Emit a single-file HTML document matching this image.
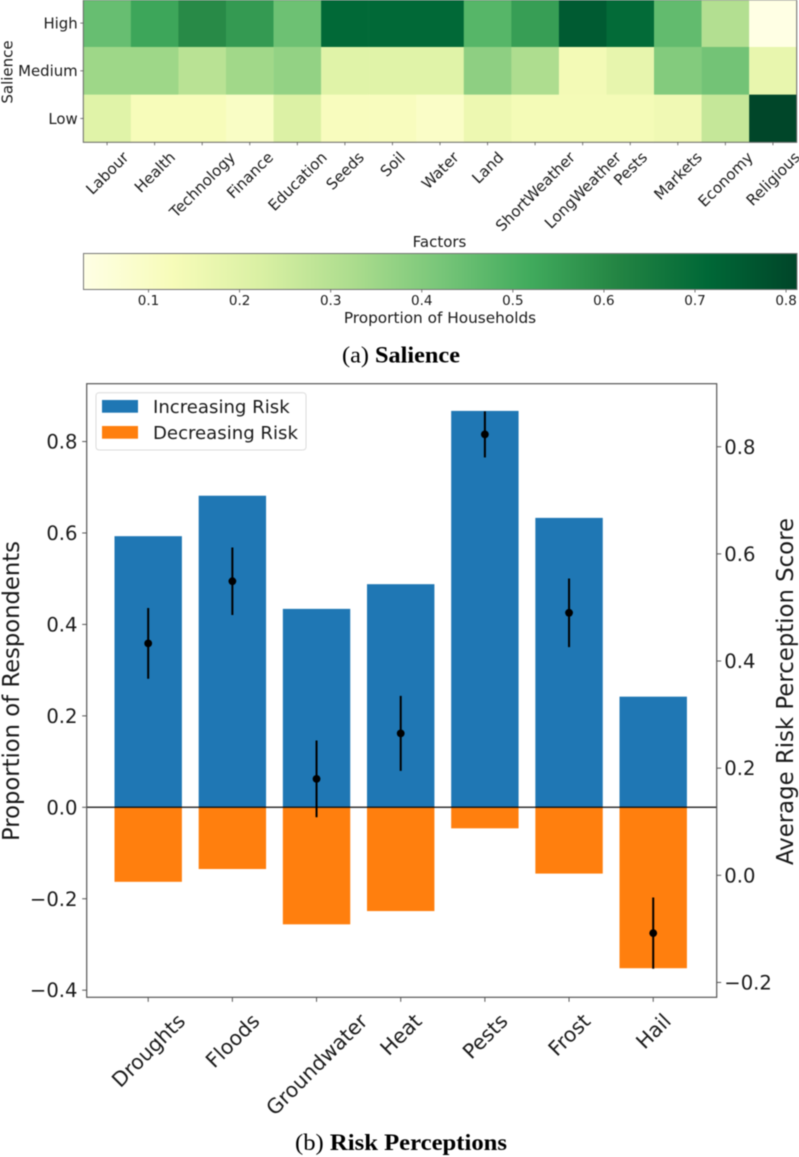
<!DOCTYPE html>
<html lang="en">
<head>
<meta charset="utf-8">
<title>Salience and Risk Perceptions</title>
<style>
  html, body { margin: 0; padding: 0; background: #fff; width: 799px; height: 1157px; overflow: hidden; }
  svg { display: block; filter: blur(0.45px); }
  text { font-family: "DejaVu Sans", "Liberation Sans", sans-serif; fill: #1a1a1a; }
  .caption { font-family: "Liberation Serif", "DejaVu Serif", serif; font-size: 23px; fill: #000; }
</style>
</head>
<body>
<svg id="figure" xmlns="http://www.w3.org/2000/svg" width="799" height="1157" viewBox="0 0 799 1157">
  <defs>
    <linearGradient id="ylgn" x1="0" x2="1" y1="0" y2="0"></linearGradient>
  </defs>

  <g id="heatmap"></g>
  <text transform="translate(12.5,72) rotate(-90)" text-anchor="middle" font-size="15">Salience</text>
  <text x="439.5" y="247" text-anchor="middle" font-size="15">Factors</text>

  <g id="colorbar"></g>
  <text x="440" y="323" text-anchor="middle" font-size="15.3">Proportion of Households</text>

  <text class="caption" x="401" y="362.5" text-anchor="middle" textLength="118" lengthAdjust="spacingAndGlyphs">(a) <tspan font-weight="bold">Salience</tspan></text>

  <g id="riskChart"></g>
  <text transform="translate(19,691) rotate(-90)" text-anchor="middle" font-size="22.7">Proportion of Respondents</text>
  <text transform="translate(793,691.5) rotate(-90)" text-anchor="middle" font-size="22.8">Average Risk Perception Score</text>

  <g>
    <rect x="96" y="392.7" width="210" height="57.3" rx="3" fill="#fff" fill-opacity="0.85" stroke="#dcdcdc" stroke-width="1"/>
    <rect x="102" y="400" width="36" height="12.7" fill="#1f77b4"/>
    <text x="153" y="413" font-size="18.1">Increasing Risk</text>
    <rect x="102" y="426" width="36" height="12.7" fill="#ff7f0e"/>
    <text x="153" y="439" font-size="18.1">Decreasing Risk</text>
  </g>

  <text class="caption" x="401" y="1150" text-anchor="middle" textLength="212" lengthAdjust="spacingAndGlyphs">(b) <tspan font-weight="bold">Risk Perceptions</tspan></text>
</svg>

<script>
// ---- Heatmap data ----
const factors = ["Labour","Health","Technology","Finance","Education","Seeds","Soil","Water","Land","ShortWeather","LongWeather","Pests","Markets","Economy","Religious"];
const salienceLevels = ["High","Medium","Low"];
const salienceHigh   = [0.45,0.53,0.60,0.56,0.44,0.71,0.71,0.71,0.48,0.55,0.75,0.705,0.46,0.31,0.03];
const salienceMedium = [0.35,0.35,0.295,0.345,0.37,0.20,0.20,0.20,0.38,0.32,0.14,0.18,0.40,0.43,0.175];
const salienceLow    = [0.20,0.125,0.125,0.10,0.215,0.115,0.115,0.095,0.16,0.135,0.135,0.135,0.15,0.27,0.81];
const colorbarTicks = [0.1,0.2,0.3,0.4,0.5,0.6,0.7,0.8];
const colorMin = 0.0286;
const colorMax = 0.812;

// ---- Risk chart data ----
const riskCategories = ["Droughts","Floods","Groundwater","Heat","Pests","Frost","Hail"];
const increasingRisk = [0.593,0.6815,0.434,0.488,0.867,0.633,0.242];
const decreasingRisk = [-0.163,-0.135,-0.256,-0.227,-0.046,-0.145,-0.352];
const meanScore  = [0.433,0.549,0.180,0.265,0.823,0.490,-0.108];
const scoreError = [0.066,0.063,0.0716,0.070,0.043,0.064,0.0665];
const leftTicks  = [-0.4,-0.2,0,0.2,0.4,0.6,0.8];
const rightTicks = [-0.2,0,0.2,0.4,0.6,0.8];

// ---- Helpers ----
const NS = "http://www.w3.org/2000/svg";
function make(parent, tag, attrs, txt) {
  const node = document.createElementNS(NS, tag);
  for (const k in attrs) node.setAttribute(k, attrs[k]);
  if (txt !== undefined) node.textContent = txt;
  parent.appendChild(node);
  return node;
}
const ylgnStops = [[255,255,229],[247,252,185],[217,240,163],[173,221,142],[120,198,121],[65,171,93],[35,132,67],[0,104,55],[0,69,41]];
function ylgn(t) {
  t = Math.max(0, Math.min(1, t)) * (ylgnStops.length - 1);
  const i = Math.min(Math.floor(t), ylgnStops.length - 2), f = t - i;
  const c = ylgnStops[i].map((v, j) => Math.round(v + (ylgnStops[i + 1][j] - v) * f));
  return "rgb(" + c.join(",") + ")";
}
function colorOf(v) { return ylgn((v - colorMin) / (colorMax - colorMin)); }
function fmt(v) { return (v < 0 ? "\u2212" : "") + Math.abs(v).toFixed(1); }

// Rotated (45 deg) label, horizontally centred on cx, its bounding box top at `top`.
function rotatedLabel(parent, label, cx, top, size) {
  const el = make(parent, "text", {"text-anchor": "middle", "font-size": size}, label);
  const w = el.getComputedTextLength();
  const cy = top + (w + size) * Math.SQRT1_2 / 2;
  el.setAttribute("transform", "translate(" + cx + "," + cy + ") rotate(-45)");
  el.setAttribute("dy", "0.36em");
  return el;
}

const SPINE = "#555";

// ---- Heatmap ----
const hm = {left: 83.3, right: 796.7, top: -0.7, bottom: 142.3};
const hmX = i => hm.left + i * (hm.right - hm.left) / factors.length;
const hmY = j => hm.top + j * (hm.bottom - hm.top) / salienceLevels.length;
const heatmap = document.getElementById("heatmap");
const salienceRows = [salienceHigh, salienceMedium, salienceLow];

salienceRows.forEach((row, j) => {
  row.forEach((value, i) => {
    const cell = make(heatmap, "rect", {
      x: hmX(i), y: hmY(j),
      width: hmX(i + 1) - hmX(i) + 0.3, height: hmY(j + 1) - hmY(j) + 0.3,
      fill: colorOf(value)
    });
    
    
  });
});
const hmFrame = make(heatmap, "rect", {
  x: hm.left, y: 0, width: hm.right - hm.left, height: hm.bottom,
  fill: "none", stroke: "#666", "stroke-width": 1
});



salienceLevels.forEach((label, j) => {
  const y = (hmY(j) + hmY(j + 1)) / 2;
  const tick = make(heatmap, "line", {x1: hm.left - 3, x2: hm.left, y1: y, y2: y, stroke: SPINE, "stroke-width": 0.8});
  
  
  const t = make(heatmap, "text", {x: 77.7, y: y, dy: "0.36em", "text-anchor": "end", "font-size": 14.9}, label);
  
  
});
factors.forEach((label, i) => {
  const x = (hmX(i) + hmX(i + 1)) / 2;
  const tick = make(heatmap, "line", {x1: x, x2: x, y1: hm.bottom, y2: hm.bottom + 3, stroke: SPINE, "stroke-width": 0.8});
  
  
  const t = rotatedLabel(heatmap, label, x, 149, 15.2);
  
  
});

// ---- Colorbar ----
const cb = {left: 83.5, right: 797, top: 253.5, bottom: 289.5};
const cbX = v => cb.left + (v - colorMin) / (colorMax - colorMin) * (cb.right - cb.left);
const grad = document.getElementById("ylgn");
ylgnStops.forEach((c, i) => {
  make(grad, "stop", {offset: i / (ylgnStops.length - 1), "stop-color": "rgb(" + c.join(",") + ")"});
});
const colorbar = document.getElementById("colorbar");
const cbRect = make(colorbar, "rect", {
  x: cb.left, y: cb.top, width: cb.right - cb.left, height: cb.bottom - cb.top,
  fill: "url(#ylgn)", stroke: "#777", "stroke-width": 1
});


colorbarTicks.forEach(v => {
  const x = cbX(v);
  const tick = make(colorbar, "line", {x1: x, x2: x, y1: cb.bottom, y2: cb.bottom + 3, stroke: SPINE, "stroke-width": 0.8});
  
  
  const t = make(colorbar, "text", {x: x, y: 305, "text-anchor": "middle", "font-size": 13.5}, v.toFixed(1));
  
  
});

// ---- Risk chart ----
const rc = {left: 86.7, right: 716.7, top: 383.7, bottom: 997.3};
const xCenter = i => 148.2 + i * 84.17;
const barWidth = 67.4;
const yLeft = v => 807.3 - 457.2 * v;
const yRight = v => 875.3 - 535.7 * v;
const risk = document.getElementById("riskChart");

riskCategories.forEach((label, i) => {
  const x = xCenter(i) - barWidth / 2;
  const up = make(risk, "rect", {
    x: x, y: yLeft(increasingRisk[i]), width: barWidth,
    height: yLeft(0) - yLeft(increasingRisk[i]), fill: "#1f77b4"
  });
  
  
  const down = make(risk, "rect", {
    x: x, y: yLeft(0), width: barWidth,
    height: yLeft(decreasingRisk[i]) - yLeft(0), fill: "#ff7f0e"
  });
  
  
});

const zeroLine = make(risk, "line", {
  x1: rc.left, x2: rc.right, y1: yLeft(0), y2: yLeft(0),
  stroke: "#000", "stroke-opacity": 0.8, "stroke-width": 1.5
});



riskCategories.forEach((label, i) => {
  const cx = xCenter(i);
  const err = make(risk, "line", {
    x1: cx, x2: cx, y1: yRight(meanScore[i] + scoreError[i]), y2: yRight(meanScore[i] - scoreError[i]),
    stroke: "#000", "stroke-width": 2
  });
  
  
  const dot = make(risk, "circle", {cx: cx, cy: yRight(meanScore[i]), r: 3.9, fill: "#000"});
  
  
  const tick = make(risk, "line", {x1: cx, x2: cx, y1: rc.bottom, y2: rc.bottom + 4.5, stroke: SPINE, "stroke-width": 1});
  
  
  const t = rotatedLabel(risk, label, cx, 1010, 20.4);
  
  
});

const rcFrame = make(risk, "rect", {
  x: rc.left, y: rc.top, width: rc.right - rc.left, height: rc.bottom - rc.top,
  fill: "none", stroke: SPINE, "stroke-width": 1.2
});



leftTicks.forEach(v => {
  const y = yLeft(v);
  const tick = make(risk, "line", {x1: rc.left - 4.5, x2: rc.left, y1: y, y2: y, stroke: SPINE, "stroke-width": 1});
  
  
  const t = make(risk, "text", {x: 77.5, y: y, dy: "0.36em", "text-anchor": "end", "font-size": 19.6}, fmt(v));
  
  
});
rightTicks.forEach(v => {
  const y = yRight(v);
  const tick = make(risk, "line", {x1: rc.right, x2: rc.right + 4.5, y1: y, y2: y, stroke: SPINE, "stroke-width": 1});
  
  
  const t = make(risk, "text", {x: 724.3, y: y, dy: "0.36em", "text-anchor": "start", "font-size": 19.6}, fmt(v));
  
  
});
</script>
</body>
</html>
